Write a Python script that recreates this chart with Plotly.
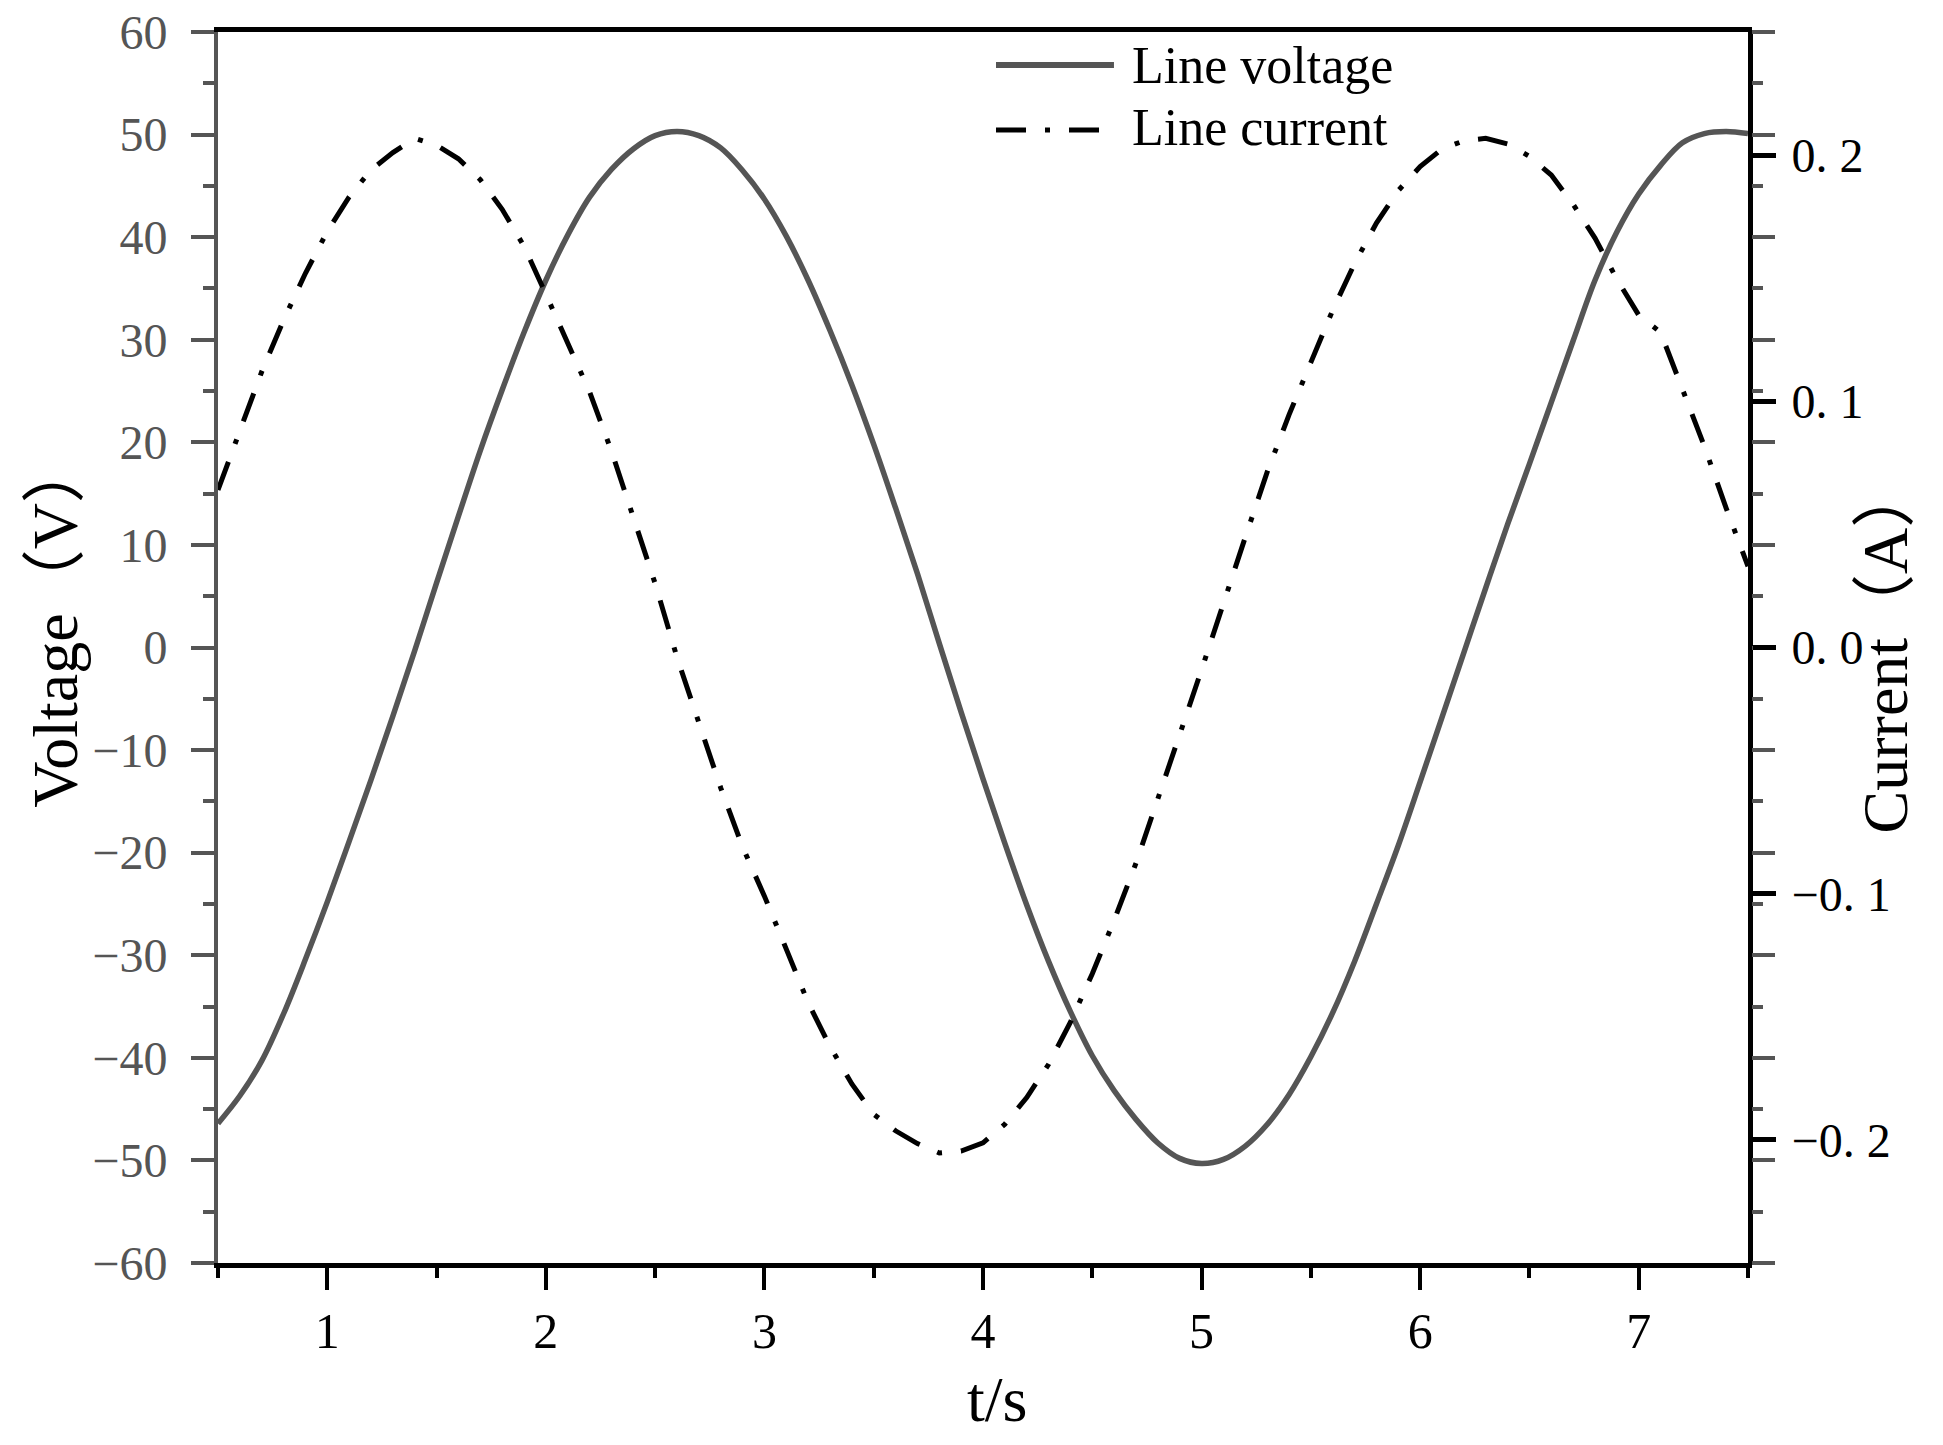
import plotly.graph_objects as go

# sampled time (s)
t_s = [
    0.5, 0.6, 0.7, 0.8, 0.9, 1.0, 1.1, 1.2, 1.3, 1.4,
    1.5, 1.6, 1.7, 1.8, 1.9, 2.0, 2.1, 2.2, 2.3, 2.4,
    2.5, 2.6, 2.7, 2.8, 2.9, 3.0, 3.1, 3.2, 3.3, 3.4,
    3.5, 3.6, 3.7, 3.8, 3.9, 4.0, 4.1, 4.2, 4.3, 4.4,
    4.5, 4.6, 4.7, 4.8, 4.9, 5.0, 5.1, 5.2, 5.3, 5.4,
    5.5, 5.6, 5.7, 5.8, 5.9, 6.0, 6.1, 6.2, 6.3, 6.4,
    6.5, 6.6, 6.7, 6.8, 6.9, 7.0, 7.1, 7.2, 7.3, 7.4,
    7.5,
]

# line voltage (V), left axis
voltage_v = [
    -46.4, -43.7, -40.3, -35.7, -30.4, -24.8, -18.9, -12.9, -6.7, -0.3,
    6.3, 12.8, 19.2, 25.1, 30.7, 35.8, 40.2, 43.9, 46.6, 48.6,
    49.9, 50.3, 49.9, 48.7, 46.5, 43.7, 40.1, 35.8, 30.9, 25.6,
    19.8, 13.6, 7.2, 0.4, -6.3, -12.8, -19.1, -25.1, -30.6, -35.5,
    -39.8, -43.2, -46.0, -48.3, -49.8, -50.3, -49.9, -48.6, -46.5, -43.6,
    -39.9, -35.6, -30.6, -25.0, -19.3, -13.1, -6.8, -0.5, 5.8, 12.0,
    17.9, 23.9, 29.9, 35.8, 40.5, 44.2, 47.0, 49.2, 50.1, 50.3,
    50.1,
]

# line current (A), right axis
current_a = [
    0.064, 0.088, 0.112, 0.133, 0.152, 0.169, 0.183, 0.194, 0.201, 0.2068,
    0.204, 0.1985, 0.190, 0.178, 0.163, 0.1435, 0.1235, 0.1038, 0.0798, 0.0536,
    0.026, -0.004, -0.031, -0.057, -0.081, -0.101, -0.1225, -0.1443, -0.162, -0.1773,
    -0.1896, -0.1963, -0.2015, -0.2053, -0.2045, -0.2012, -0.1936, -0.1828, -0.1693, -0.1522,
    -0.1325, -0.1108, -0.0876, -0.0622, -0.0353, -0.009, 0.0186, 0.0448, 0.0712, 0.0945,
    0.1158, 0.137, 0.156, 0.1724, 0.1856, 0.1953, 0.2025, 0.2058, 0.2068, 0.2045,
    0.1995, 0.1919, 0.180, 0.1663, 0.1496, 0.135, 0.128, 0.1048, 0.0818, 0.0566,
    0.033,
]

x_ticks = [1, 2, 3, 4, 5, 6, 7]
current_ticks = [-0.2, -0.1, 0.0, 0.1, 0.2]
current_ticktext = ["\u22120. 2", "\u22120. 1", "0. 0", "0. 1", "0. 2"]

GREY = "#555555"
SERIF = "Liberation Serif, 'Noto Sans CJK SC', serif"
CURRENT_DASH = "30px,19px,5px,19px"

fig = go.Figure()
fig.add_trace(go.Scatter(
    x=t_s, y=voltage_v, mode="lines", name="Line voltage",
    line=dict(color=GREY, width=5.5, shape="spline", smoothing=1.0),
))
fig.add_trace(go.Scatter(
    x=t_s, y=current_a, mode="lines", name="Line current", yaxis="y2",
    line=dict(color="black", width=5, dash=CURRENT_DASH),
))

# page body adds an 8px offset, so the figure is 8px smaller than the window
fig.update_layout(
    width=1935,
    height=1437,
    margin=dict(l=210, r=195, t=24, b=182),
    paper_bgcolor="white",
    plot_bgcolor="white",
    showlegend=False,
    font=dict(family=SERIF, color="black"),
    xaxis=dict(
        range=[0.5, 7.5],
        tickvals=x_ticks,
        ticks="outside", ticklen=22, tickwidth=4, tickcolor="black",
        minor=dict(dtick=0.5, tick0=0.5, ticks="outside", ticklen=10,
                   tickwidth=4, tickcolor="black"),
        showline=True, linecolor="black", linewidth=5, mirror=True,
        showgrid=False, zeroline=False, automargin=False,
        tickfont=dict(family=SERIF, size=50, color="black"),
        ticklabelstandoff=-2, ticklabeloverflow="allow",
    ),
    yaxis=dict(
        range=[-60, 60],
        dtick=10, tick0=0,
        ticks="outside", ticklen=23, tickwidth=4, tickcolor=GREY,
        minor=dict(dtick=5, ticks="outside", ticklen=11, tickwidth=4, tickcolor=GREY),
        showline=True, linecolor=GREY, linewidth=4, mirror="ticks",
        showgrid=False, zeroline=False, automargin=False,
        tickfont=dict(family=SERIF, size=48, color=GREY),
        ticklabelstandoff=14, ticklabeloverflow="allow",
    ),
    yaxis2=dict(
        overlaying="y", side="right",
        range=[-0.25, 0.25],
        tickvals=current_ticks, ticktext=current_ticktext,
        ticks="outside", ticklen=23, tickwidth=5, tickcolor="black",
        showline=True, linecolor="black", linewidth=5,
        showgrid=False, zeroline=False, automargin=False,
        tickfont=dict(family=SERIF, size=48, color="black"),
        ticklabelstandoff=6, ticklabeloverflow="allow",
    ),
)

# axis titles placed as annotations so their position is fixed
axis_titles = [
    ("Voltage\uff08V\uff09", -0.106, 0.520, -90),
    ("Current\uff08A\uff09", 1.090, 0.499, -90),
    ("t/s", 0.509, -0.1105, 0),
]
for text, x, y, angle in axis_titles:
    fig.add_annotation(text=text, xref="paper", yref="paper", x=x, y=y,
                       xanchor="center", yanchor="middle", textangle=angle,
                       showarrow=False, font=dict(family=SERIF, size=64, color="black"))

# hand-drawn legend with long line samples, as in the original figure
legend_rows = [
    ("Line voltage", dict(color=GREY, width=6), 0.9732, 0.9730),
    ("Line current", dict(color="black", width=5, dash=CURRENT_DASH), 0.9204, 0.9225),
]
for label, line_style, y_line, y_text in legend_rows:
    fig.add_shape(type="line", xref="paper", yref="paper",
                  x0=0.5085, x1=0.5856, y0=y_line, y1=y_line, line=line_style)
    fig.add_annotation(text=label, xref="paper", yref="paper", x=0.596, y=y_text,
                       xanchor="left", yanchor="middle", showarrow=False,
                       font=dict(family=SERIF, size=52, color="black"))

fig.write_html("out.html")
